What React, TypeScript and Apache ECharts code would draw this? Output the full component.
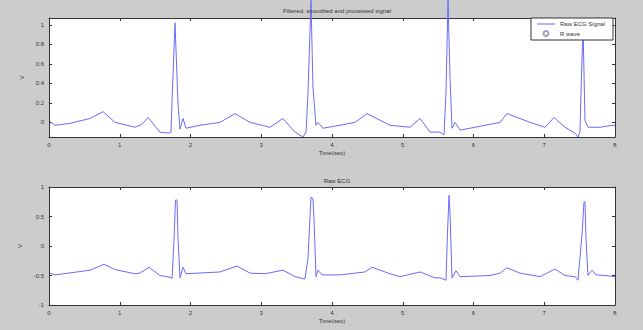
import React, { useEffect, useRef } from "react";
import * as echarts from "echarts";

// Filtered / smoothed signal: [time (s), value (V)]
const filteredTime = [0.014, 0.085, 0.297, 0.58, 0.763, 0.933, 1.216, 1.314, 1.399, 1.569, 1.696, 1.724, 1.739, 1.781, 1.823, 1.852, 1.894, 1.936, 2.134, 2.417, 2.629, 2.841, 3.124, 3.307, 3.477, 3.59, 3.633, 3.661, 3.703, 3.731, 3.774, 3.802, 3.873, 4.113, 4.325, 4.495, 4.82, 5.102, 5.244, 5.385, 5.527, 5.583, 5.611, 5.64, 5.668, 5.696, 5.739, 5.81, 6.233, 6.375, 6.473, 6.799, 7.011, 7.138, 7.293, 7.435, 7.477, 7.505, 7.519, 7.548, 7.576, 7.618, 7.647, 7.788, 7.958, 8.0];
const filteredValue = [0.01, -0.03, -0.01, 0.04, 0.11, 0.0, -0.05, -0.02, 0.05, -0.1, -0.11, -0.1, 0.22, 1.02, 0.2, -0.07, 0.04, -0.06, -0.03, 0.0, 0.09, 0.0, -0.05, 0.04, -0.1, -0.15, -0.1, 0.3, 1.25, 0.36, -0.03, 0.0, -0.06, -0.03, 0.0, 0.09, -0.03, -0.05, 0.04, -0.1, -0.1, -0.13, 0.3, 1.25, 0.46, -0.06, 0.0, -0.08, -0.02, 0.0, 0.09, 0.0, -0.05, 0.05, -0.05, -0.11, -0.15, -0.1, 0.3, 0.98, 0.02, -0.05, -0.05, -0.05, -0.03, -0.03];

// Raw ECG: [time (s), value (V)]
const rawTime = [0.014, 0.085, 0.58, 0.777, 0.933, 1.216, 1.286, 1.413, 1.569, 1.71, 1.739, 1.767, 1.788, 1.809, 1.823, 1.852, 1.894, 1.936, 2.417, 2.657, 2.841, 3.053, 3.307, 3.477, 3.618, 3.661, 3.703, 3.731, 3.746, 3.774, 3.802, 3.859, 4.113, 4.466, 4.565, 4.82, 4.961, 5.244, 5.456, 5.527, 5.611, 5.632, 5.654, 5.668, 5.682, 5.696, 5.753, 5.81, 6.233, 6.375, 6.473, 6.657, 6.94, 7.152, 7.293, 7.435, 7.477, 7.534, 7.562, 7.576, 7.59, 7.618, 7.675, 7.732, 7.859, 8.0];
const rawValue = [-0.46, -0.49, -0.41, -0.31, -0.4, -0.47, -0.46, -0.36, -0.5, -0.53, -0.55, 0.1, 0.78, 0.78, 0.15, -0.54, -0.36, -0.47, -0.44, -0.34, -0.46, -0.47, -0.41, -0.52, -0.56, -0.2, 0.83, 0.8, 0.44, -0.52, -0.41, -0.49, -0.49, -0.44, -0.36, -0.47, -0.52, -0.44, -0.54, -0.54, -0.58, 0.2, 0.86, 0.56, 0.0, -0.54, -0.42, -0.52, -0.5, -0.46, -0.37, -0.46, -0.52, -0.39, -0.5, -0.52, -0.58, 0.2, 0.75, 0.75, 0.13, -0.5, -0.41, -0.49, -0.5, -0.52];

const xTicks = [0, 1, 2, 3, 4, 5, 6, 7, 8];
const topYTicks = [0, 0.2, 0.4, 0.6, 0.8, 1];
const bottomYTicks = [-1, -0.5, 0, 0.5, 1];

const titles = ["Filtered, smoothed and processed signal", "Raw ECG"];
const seriesNames = ["Raw ECG Signal", "R wave"];

const FONT = "Liberation Sans";
const TXT = "#333";
const LINE = "#6b6bf5";

export default function App() {
  const ref = useRef<HTMLDivElement>(null);
  useEffect(() => {
    if (!ref.current) return;
    const chart = echarts.init(ref.current, null, { renderer: "svg" });
    const pair = (t: number[], v: number[]) => t.map((x, i) => [x, v[i]]);
    const axisLine = { show: true, onZero: false, lineStyle: { color: "#333", width: 1 } };
    const xBase = (gi: number, pos: "bottom" | "top", labels: boolean) => ({
      type: "value",
      gridIndex: gi,
      position: pos,
      min: 0,
      max: 8,
      interval: 1,
      axisLine,
      axisTick: { show: true, inside: true, length: 3, lineStyle: { color: "#333" } },
      axisLabel: {
        show: labels,
        fontSize: 6,
        fontFamily: FONT,
        color: TXT,
        margin: 5,
        formatter: (v: number) => (xTicks.includes(v) ? String(v) : ""),
      },
      splitLine: { show: false },
      name: labels ? "Time(sec)" : "",
      nameLocation: "middle",
      nameGap: 13,
      nameTextStyle: { fontSize: 6, fontFamily: FONT, color: TXT },
    });
    const yBase = (gi: number, pos: "left" | "right", labels: boolean, min: number, max: number, ticks: number[]) => ({
      type: "value",
      gridIndex: gi,
      position: pos,
      min,
      max,
      axisLine,
      axisTick: { show: true, inside: true, length: 3, customValues: ticks, lineStyle: { color: "#333" } },
      axisLabel: {
        show: labels,
        customValues: ticks,
        fontSize: 6,
        fontFamily: FONT,
        color: TXT,
        margin: 5,
        formatter: (v: number) => String(Math.round(v * 100) / 100),
      },
      splitLine: { show: false },
      name: labels ? "V" : "",
      nameLocation: "middle",
      nameGap: 22,
      nameRotate: 90,
      nameTextStyle: { fontSize: 6, fontFamily: FONT, color: TXT },
    });
    chart.setOption({
      animation: false,
      backgroundColor: "#cccccc",
      title: [
        { text: titles[0], left: 332, top: 3, textAlign: "center", textStyle: { fontSize: 6, fontWeight: "normal", fontFamily: FONT, color: TXT } },
        { text: titles[1], left: 332, top: 173, textAlign: "center", textStyle: { fontSize: 6, fontWeight: "normal", fontFamily: FONT, color: TXT } },
      ],
      legend: {
        top: 18,
        right: 30,
        orient: "vertical",
        backgroundColor: "#ffffff",
        borderColor: "#333",
        borderWidth: 1,
        borderRadius: 0,
        padding: [3, 8, 3, 6],
        itemGap: 3,
        itemWidth: 18,
        itemHeight: 5,
        textStyle: { fontSize: 6, fontFamily: FONT, color: TXT },
        data: [
          { name: seriesNames[0], icon: "path://M0,2 L18,2 L18,3 L0,3 Z" },
          { name: seriesNames[1], icon: "emptyCircle" },
        ],
      },
      grid: [
        { left: 49, right: 28, top: 18, height: 119, show: true, backgroundColor: "#ffffff", borderWidth: 0 },
        { left: 49, right: 28, top: 187, height: 118, show: true, backgroundColor: "#ffffff", borderWidth: 0 },
      ],
      xAxis: [xBase(0, "bottom", true), xBase(0, "top", false), xBase(1, "bottom", true), xBase(1, "top", false)],
      yAxis: [
        yBase(0, "left", true, -0.15, 1.07, topYTicks),
        yBase(0, "right", false, -0.15, 1.07, topYTicks),
        yBase(1, "left", true, -1, 1, bottomYTicks),
        yBase(1, "right", false, -1, 1, bottomYTicks),
      ],
      series: [
        {
          name: seriesNames[0],
          type: "line",
          xAxisIndex: 0,
          yAxisIndex: 0,
          data: pair(filteredTime, filteredValue),
          showSymbol: false,
          clip: false,
          lineStyle: { color: LINE, width: 1 },
          itemStyle: { color: LINE },
          z: 1,
        },
        {
          name: seriesNames[1],
          type: "scatter",
          xAxisIndex: 0,
          yAxisIndex: 0,
          data: [],
          symbol: "emptyCircle",
          symbolSize: 5,
          itemStyle: { color: "#8888aa" },
        },
        {
          name: "raw",
          type: "line",
          xAxisIndex: 2,
          yAxisIndex: 2,
          data: pair(rawTime, rawValue),
          showSymbol: false,
          lineStyle: { color: LINE, width: 1 },
        },
      ],
    });
    return () => chart.dispose();
  }, []);
  return <div ref={ref} style={{ width: 643, height: 330, position: "absolute", left: 0, top: 0 }} />;
}
